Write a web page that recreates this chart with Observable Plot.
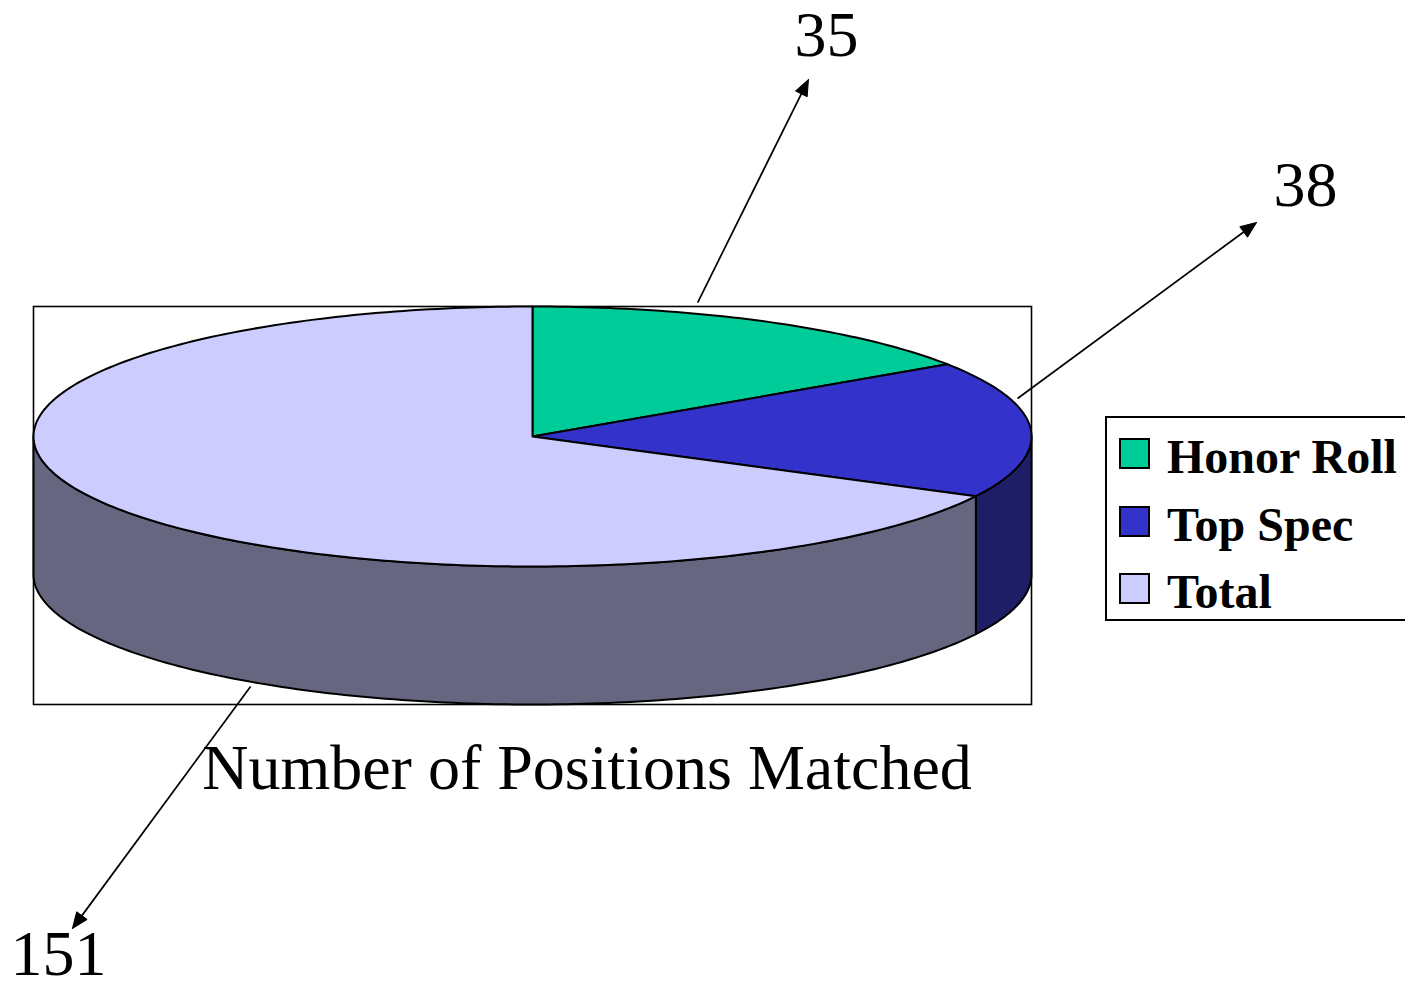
<!DOCTYPE html>
<html>
<head>
<meta charset="utf-8">
<script src="https://cdn.jsdelivr.net/npm/d3@7"></script>
<script src="https://cdn.jsdelivr.net/npm/@observablehq/plot@0.6"></script>
<style>
  html, body { margin: 0; padding: 0; background: #fff; }
  #wrap { position: relative; width: 1405px; height: 988px; overflow: hidden; font-family: "Liberation Serif", "Times New Roman", serif; }
  #chart { position: absolute; left: 0; top: 0; }
  #title { position: absolute; left: 0; width: 1174px; top: 736px; text-align: center; font-size: 64px; line-height: 64px; color: #000; white-space: nowrap; }
  #legend { position: absolute; left: 1105px; top: 416px; width: 330px; height: 205px; box-sizing: border-box; border: 2px solid #000; background: #fff; }
  .sw { position: absolute; left: 12px; width: 31px; height: 31px; box-sizing: border-box; border: 2px solid #000; }
  .lt { position: absolute; left: 60px; font-size: 48px; line-height: 48px; font-weight: bold; white-space: nowrap; color: #000; }
</style>
</head>
<body>
<div id="wrap">
  <div id="chart"></div>
  <div id="title"></div>
  <div id="legend"></div>
</div>
<script>
// ---- data ----
const categories = ["Honor Roll", "Top Spec", "Total"];
const values = [35, 38, 151];
const chartTitle = "Number of Positions Matched";

// ---- styles ----
const topColors = ["#00CC99", "#3333CC", "#CCCCFF"];
const sideColors = ["#00664C", "#1E1E66", "#666680"];

// ---- callout layout (chart units: ellipse radius = 1) ----
const calloutTail = [[0.331, -0.2685], [0.972, -0.0762], [-0.565, 0.501]];
const calloutHead = [[0.553, -0.7154], [1.451, -0.4289], [-0.922, 0.986]];
const labelAt = [[0.589, -0.7635], [1.549, -0.4629], [-0.950, 1.080]];

// ---- 3D pie geometry ----
const TILT = 130 / 499;   // vertical radius of the top ellipse
const DEPTH = 138 / 499;  // thickness of the pie

const arcs = d3.pie().sort(null).startAngle(0).endAngle(2 * Math.PI)(values);
const rim = (t, dy = 0) => ({x: Math.sin(t), y: -TILT * Math.cos(t) + dy});
const sample = (a0, a1) => {
  const n = Math.max(2, Math.ceil((a1 - a0) / (Math.PI / 180)));
  return d3.range(n + 1).map(i => a0 + (a1 - a0) * i / n);
};

const sides = [];
arcs.forEach((a, i) => {
  const s0 = Math.max(a.startAngle, Math.PI / 2);
  const s1 = Math.min(a.endAngle, 3 * Math.PI / 2);
  if (s1 > s0) {
    const ts = sample(s0, s1);
    const pts = [...ts.map(t => rim(t)), ...ts.slice().reverse().map(t => rim(t, DEPTH))];
    pts.push(pts[0]);
    sides.push({color: sideColors[i], points: pts});
  }
});

const tops = arcs.map((a, i) => {
  const pts = [{x: 0, y: 0}, ...sample(a.startAngle, a.endAngle).map(t => rim(t)), {x: 0, y: 0}];
  return {color: topColors[i], points: pts};
});

// callouts
const L = 16 / 499, W = 6.5 / 499;
const callouts = values.map((v, i) => {
  const [tx, ty] = calloutTail[i];
  const [hx, hy] = calloutHead[i];
  const len = Math.hypot(hx - tx, hy - ty);
  const ux = (hx - tx) / len, uy = (hy - ty) / len;
  const bx = hx - L * ux, by = hy - L * uy;
  return {
    value: v, tx, ty, bx, by,
    lx: labelAt[i][0], ly: labelAt[i][1],
    head: [
      {id: i, x: hx, y: hy},
      {id: i, x: bx - W * uy, y: by + W * ux},
      {id: i, x: bx + W * uy, y: by - W * ux},
      {id: i, x: hx, y: hy}
    ]
  };
});

const chart = Plot.plot({
  width: 1405,
  height: 988,
  marginLeft: 33,
  marginRight: 374,
  marginTop: 306,
  marginBottom: 284,
  style: {background: "transparent", fontFamily: "Liberation Serif"},
  x: {axis: null, domain: [-1, 1]},
  y: {axis: null, domain: [-TILT, TILT + DEPTH], reverse: true},
  marks: [
    Plot.frame({stroke: "#000", strokeWidth: 1.6}),
    ...sides.map(s => Plot.line(s.points, {x: "x", y: "y", fill: s.color, stroke: "#000", strokeWidth: 2, curve: "linear"})),
    ...tops.map(s => Plot.line(s.points, {x: "x", y: "y", fill: s.color, stroke: "#000", strokeWidth: 2, curve: "linear"})),
    Plot.link(callouts, {x1: "tx", y1: "ty", x2: "bx", y2: "by", stroke: "#000", strokeWidth: 1.7}),
    Plot.line(callouts.flatMap(c => c.head), {x: "x", y: "y", z: "id", fill: "#000", stroke: "#000", strokeWidth: 1}),
    Plot.text(callouts, {x: "lx", y: "ly", text: d => String(d.value), fontSize: 64, fontFamily: "Liberation Serif", textAnchor: "middle", lineAnchor: "bottom", fill: "#000"})
  ]
});
document.getElementById("chart").appendChild(chart);

document.getElementById("title").textContent = chartTitle;

const legend = document.getElementById("legend");
categories.forEach((c, i) => {
  const sw = document.createElement("div");
  sw.className = "sw";
  sw.style.top = (20 + 67.5 * i) + "px";
  sw.style.background = topColors[i];
  legend.appendChild(sw);
  const t = document.createElement("div");
  t.className = "lt";
  t.style.top = (15 + 67.5 * i) + "px";
  t.textContent = c;
  legend.appendChild(t);
});
</script>
</body>
</html>
